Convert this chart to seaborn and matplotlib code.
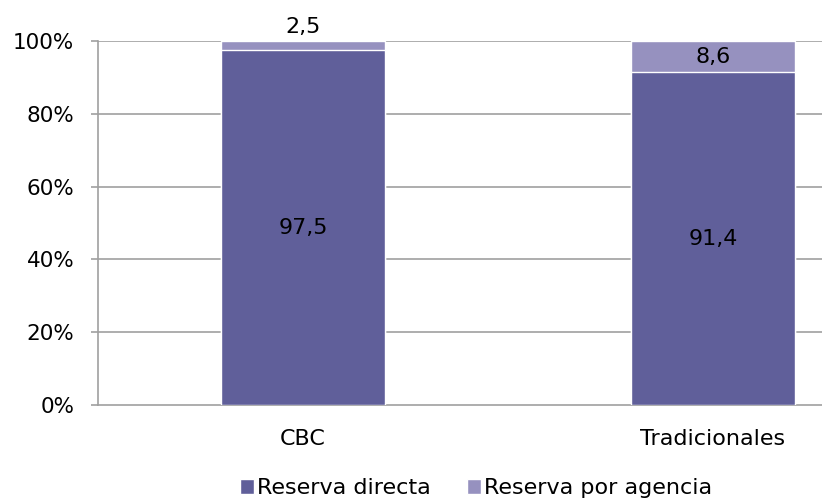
import numpy as np
import pandas as pd
import matplotlib.pyplot as plt
import seaborn as sns
from matplotlib.patches import Patch

# Data (percent)
categorias = ["CBC", "Tradicionales"]
reserva_directa = [97.5, 91.4]
reserva_agencia = [2.5, 8.6]
ticks_y = [0, 20, 40, 60, 80, 100]

color_directa = "#605F9A"
color_agencia = "#9691BF"
gris = "#A0A0A0"
fs = 16

df = pd.DataFrame({
    "Categoria": categorias,
    "Reserva directa": reserva_directa,
    "Reserva por agencia": reserva_agencia,
})
df["Total"] = df["Reserva directa"] + df["Reserva por agencia"]

sns.set_style("white")
plt.rcParams["font.family"] = ["DejaVu Sans"]
plt.rcParams["text.color"] = "black"
plt.rcParams["xtick.color"] = "black"
plt.rcParams["ytick.color"] = "black"

fig = plt.figure(figsize=(8.22, 5.03), dpi=100)
ax = fig.add_axes([98 / 822, 98 / 503, (822 - 98) / 822, (405 - 41) / 503])

ax.set_axisbelow(True)
for t in ticks_y[1:]:
    ax.axhline(t, color=gris, lw=1.2, zorder=0)

# stacked: total (light) first, then the bottom segment (dark) on top
sns.barplot(data=df, x="Categoria", y="Total", color=color_agencia,
            width=0.4, saturation=1, ax=ax, zorder=2)
sns.barplot(data=df, x="Categoria", y="Reserva directa", color=color_directa,
            width=0.4, saturation=1, ax=ax, zorder=3)

ax.set_xlim(-0.5, -0.5 + (822 - 98) / 410)
ax.set_ylim(0, 100)
ax.set_yticks(ticks_y)
ax.set_yticklabels([f"{t}%" for t in ticks_y])
ax.set_xlabel("")
ax.set_ylabel("")

def fmt(v):
    return f"{v:.1f}".replace(".", ",")

for i, (d, a) in enumerate(zip(reserva_directa, reserva_agencia)):
    ax.text(i, d / 2, fmt(d), ha="center", va="center", fontsize=fs,
            color="black", zorder=5)
    if a < 5:
        ax.text(i, d + a + 1.0, fmt(a), ha="center", va="bottom", fontsize=fs,
                color="black", zorder=5, clip_on=False)
    else:
        ax.text(i, d + a / 2, fmt(a), ha="center", va="center", fontsize=fs,
                color="black", zorder=5)

for s in ["top", "right"]:
    ax.spines[s].set_visible(False)
ax.spines["left"].set_color(gris)
ax.spines["bottom"].set_color(gris)
ax.spines["left"].set_linewidth(1.2)
ax.spines["bottom"].set_linewidth(1.2)
ax.tick_params(axis="y", which="both", left=True, length=5, width=1.2,
               color=gris, labelcolor="black", labelsize=15.5, pad=12)
ax.tick_params(axis="x", bottom=False, labelcolor="black", labelsize=fs, pad=14)

handles = [Patch(facecolor=color_directa, label="Reserva directa"),
           Patch(facecolor=color_agencia, label="Reserva por agencia")]
fig.legend(handles=handles, loc="center", bbox_to_anchor=(476 / 822, 1 - 488 / 503),
           ncol=2, frameon=False, fontsize=fs, handlelength=0.65, handleheight=0.65,
           handletextpad=0.15, columnspacing=1.6)

fig.savefig("out.png", dpi=100)
